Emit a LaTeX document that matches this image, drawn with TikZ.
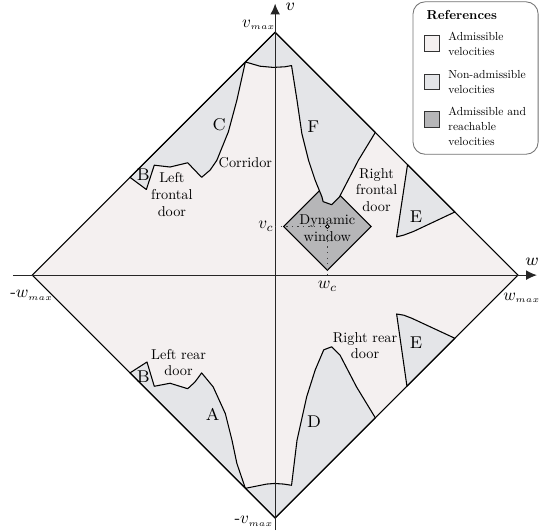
\documentclass[tikz,border=0pt]{standalone}
\usepackage{tikz}
\usetikzlibrary{arrows.meta}
\definecolor{admis}{RGB}{244,240,240}
\definecolor{nonadmis}{RGB}{228,229,232}
\definecolor{reach}{RGB}{182,182,184}
\tikzset{
  region/.style={fill=nonadmis,draw=black,line width=0.5pt,line join=round},
  lbl/.style={font=\fontsize{10}{11.7}\selectfont,align=center,inner sep=0pt,scale=0.67,transform shape},
  letter/.style={font=\footnotesize,inner sep=0pt},
  mlbl/.style={inner sep=0pt,scale=0.8,transform shape},
  leg/.style={font=\fontsize{10}{13.2}\selectfont,align=left,anchor=west,inner sep=0pt,scale=0.545,transform shape},
  legsq/.style={draw=black!80,line width=0.4pt},
  axis/.style={-{Latex[length=5pt,width=4.5pt]},line width=0.5pt,black!85}
}
\begin{document}
\begin{tikzpicture}
\useasboundingbox (-4.53,-4.20) rectangle (4.41,4.53);
\fill[admis](0,4)--(4,0)--(0,-4)--(-4,0)--cycle;%admissible
\draw[fill=reach,line width=0.5pt](0.14,0.80)--(0.86,0.08)--(1.58,0.80)--(0.86,1.52)--cycle;%dynamic window
%upper regions B, C, F
\draw[region](-2.39,1.61)--(-2.12,1.41)--(-1.99,1.81)--(-1.73,1.78)--(-1.44,1.85)--(-1.21,1.61)--(-1.07,1.73)--(-0.96,1.89)--(-0.77,2.36)--(-0.63,2.88)--(-0.49,3.51)
  --(-0.25,3.44)--(-0.03,3.42)--(0.16,3.43)--(0.27,3.45)
  --(0.36,2.88)--(0.44,2.33)--(0.55,1.89)--(0.66,1.56)--(0.77,1.29)--(0.79,1.21)--(0.93,1.16)--(1.06,1.29)--(1.37,1.89)--(1.65,2.35)--(0,4)--cycle;
\draw[region](2.18,1.82)--(2.00,0.63)--(2.12,0.66)--(2.28,0.72)--(2.96,1.04)--cycle;%upper E
%lower regions B, A, D
\draw[region](-2.39,-1.61)--(-2.11,-1.43)--(-1.99,-1.83)--(-1.73,-1.78)--(-1.44,-1.87)--(-1.32,-1.76)--(-1.21,-1.61)--(-1.02,-1.84)--(-0.82,-2.28)--(-0.71,-2.72)--(-0.63,-3.10)--(-0.49,-3.51)
  --(-0.14,-3.44)--(-0.01,-3.43)--(0.14,-3.44)--(0.27,-3.46)
  --(0.36,-2.72)--(0.52,-2.00)--(0.66,-1.56)--(0.80,-1.23)--(0.93,-1.18)--(1.07,-1.32)--(1.34,-1.84)--(1.65,-2.35)--(0,-4)--cycle;
\draw[region](2.17,-1.83)--(2.00,-0.64)--(2.12,-0.66)--(2.25,-0.71)--(2.96,-1.04)--cycle;%lower E
\draw[line width=0.5pt](0,4)--(4,0)--(0,-4)--(-4,0)--cycle;%border
\draw[axis](-4.32,0)--(4.31,0);%w axis
\draw[axis](0,-4.20)--(0,4.47);%v axis
\draw[dotted,line width=0.6pt,black!75](0,0.80)--(0.86,0.80)--(0.86,0);
\draw[fill=white,line width=0.4pt](0.86,0.80)circle(0.03);
%axis labels
\node[font=\footnotesize,inner sep=0pt](lv)at(0.25,4.41){$v$};
\node[font=\footnotesize,inner sep=0pt](lw)at(4.23,0.22){$w$};
\node[mlbl](lvmax)at(-0.27,4.12){$v_{\scriptscriptstyle max}$};
\node[mlbl](lvmin)at(-0.35,-4.05){-$v_{\scriptscriptstyle max}$};
\node[mlbl](lwmin)at(-4.01,-0.33){-$w_{\scriptscriptstyle max}$};
\node[mlbl](lwmax)at(4.06,-0.37){$w_{\scriptscriptstyle max}$};
\node[mlbl](lvc)at(-0.15,0.80){$v_c$};
\node[mlbl](lwc)at(0.86,-0.18){$w_c$};
%region labels
\node[letter](rA)at(-1.03,-2.30){A};
\node[letter](rBu)at(-2.17,1.66){B};
\node[letter](rBl)at(-2.17,-1.67){B};
\node[letter](rC)at(-0.92,2.47){C};
\node[letter](rD)at(0.64,-2.41){D};
\node[letter](rEu)at(2.32,0.96){E};
\node[letter](rEl)at(2.32,-1.11){E};
\node[letter](rF)at(0.63,2.45){F};
\node[lbl](lfd)at(-1.70,1.33){Left\\frontal\\door};
\node[lbl](cor)at(-0.49,1.86){Corridor};
\node[lbl](rfd)at(1.67,1.40){Right\\frontal\\door};
\node[lbl](dyn)at(0.86,0.77){Dynamic\\window};
\node[lbl](lrd)at(-1.59,-1.44){Left rear\\door};
\node[lbl](rrd)at(1.48,-1.16){Right rear\\door};
%legend
\draw[rounded corners=0.2cm,draw=black!55,fill=white,line width=0.4pt](2.27,1.99)rectangle(4.33,4.50);
\node[font=\bfseries,anchor=west,inner sep=0pt,scale=0.61,transform shape](refs)at(2.49,4.28){References};
\draw[legsq,fill=admis](2.46,3.69)rectangle(2.71,3.94);
\draw[legsq,fill=nonadmis](2.46,3.06)rectangle(2.71,3.31);
\draw[legsq,fill=reach](2.46,2.44)rectangle(2.71,2.69);
\node[leg](legA)at(2.85,3.81){Admissible\\velocities};
\node[leg](legN)at(2.85,3.18){Non-admissible\\velocities};
\node[leg](legR)at(2.85,2.45){Admissible and\\reachable\\velocities};
\end{tikzpicture}
\end{document}
